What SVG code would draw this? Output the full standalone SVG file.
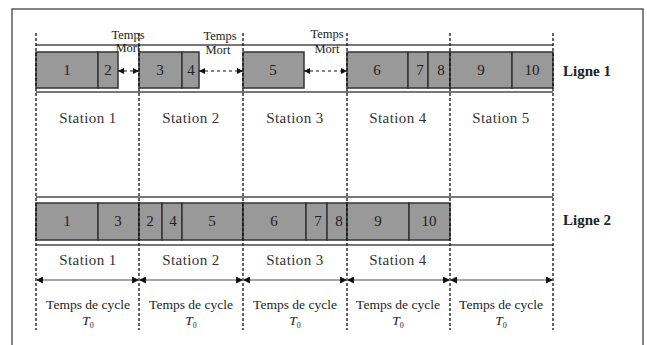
<svg xmlns="http://www.w3.org/2000/svg" width="647" height="345" viewBox="0 0 647 345">
<defs>
<marker id="ah" viewBox="0 0 10 10" refX="10" refY="5" markerWidth="8" markerHeight="7" markerUnits="userSpaceOnUse" orient="auto-start-reverse"><path d="M0,0 L10,5 L0,10 z" fill="#111"/></marker>
<marker id="ahs" viewBox="0 0 10 10" refX="10" refY="5" markerWidth="7" markerHeight="6" markerUnits="userSpaceOnUse" orient="auto-start-reverse"><path d="M0,0 L10,5 L0,10 z" fill="#111"/></marker>
<style>
.num{font-family:"Liberation Serif","Times New Roman",serif;font-size:15px;text-anchor:middle;fill:#222;}
.st{font-family:"Liberation Serif","Times New Roman",serif;font-size:15px;letter-spacing:0.4px;text-anchor:middle;fill:#333;}
.lg{font-family:"Liberation Serif","Times New Roman",serif;font-size:15px;font-weight:bold;fill:#222;}
.tm{font-family:"Liberation Serif","Times New Roman",serif;font-size:12.5px;text-anchor:middle;fill:#222;}
.tc{font-family:"Liberation Serif","Times New Roman",serif;font-size:13.5px;text-anchor:middle;fill:#222;}
.box{fill:#999;stroke:#333;stroke-width:1.5;}
.rail{stroke:#777;stroke-width:2;fill:none;}
.vd{stroke:#111;stroke-width:1.3;stroke-dasharray:3 2;fill:none;}
.cyc{stroke:#888;stroke-width:1.5;marker-start:url(#ah);marker-end:url(#ah);}
.dt{stroke:#111;stroke-width:1.2;stroke-dasharray:3 3;marker-start:url(#ahs);marker-end:url(#ahs);}
</style>
</defs>
<rect x="12" y="9" width="631" height="345" fill="#fff" stroke="#333" stroke-width="1.2"/>

<g id="rails">
<line class="rail" x1="36" y1="45" x2="553" y2="45"/>
<line class="rail" x1="36" y1="92" x2="553" y2="92"/>
<line class="rail" x1="36" y1="197" x2="553" y2="197"/>
<line class="rail" x1="36" y1="245" x2="553" y2="245"/>
</g>

<g id="ligne1">
<g id="l1-t1"><rect class="box" x="36" y="52" width="62" height="36"/><text class="num" x="67" y="75">1</text></g>
<g id="l1-t2"><rect class="box" x="98" y="52" width="20" height="36"/><text class="num" x="108" y="75">2</text></g>
<g id="l1-t3"><rect class="box" x="139" y="52" width="43" height="36"/><text class="num" x="160" y="75">3</text></g>
<g id="l1-t4"><rect class="box" x="182" y="52" width="17" height="36"/><text class="num" x="191" y="75">4</text></g>
<g id="l1-t5"><rect class="box" x="243" y="52" width="61" height="36"/><text class="num" x="273" y="75">5</text></g>
<g id="l1-t6"><rect class="box" x="347" y="52" width="61" height="36"/><text class="num" x="377" y="75">6</text></g>
<g id="l1-t7"><rect class="box" x="408" y="52" width="20" height="36"/><text class="num" x="420" y="75">7</text></g>
<g id="l1-t8"><rect class="box" x="428" y="52" width="22" height="36"/><text class="num" x="441" y="75">8</text></g>
<g id="l1-t9"><rect class="box" x="450" y="52" width="62" height="36"/><text class="num" x="481" y="75">9</text></g>
<g id="l1-t10"><rect class="box" x="512" y="52" width="41" height="36"/><text class="num" x="532" y="75">10</text></g>
<text class="lg" x="563" y="76">Ligne 1</text>
</g>

<g id="ligne2">
<g id="l2-t1"><rect class="box" x="36" y="203" width="62" height="37"/><text class="num" x="67" y="226">1</text></g>
<g id="l2-t3"><rect class="box" x="98" y="203" width="41" height="37"/><text class="num" x="118" y="226">3</text></g>
<g id="l2-t2"><rect class="box" x="139" y="203" width="23" height="37"/><text class="num" x="150" y="226">2</text></g>
<g id="l2-t4"><rect class="box" x="162" y="203" width="20" height="37"/><text class="num" x="173" y="226">4</text></g>
<g id="l2-t5"><rect class="box" x="182" y="203" width="61" height="37"/><text class="num" x="212" y="226">5</text></g>
<g id="l2-t6"><rect class="box" x="243" y="203" width="63" height="37"/><text class="num" x="274" y="226">6</text></g>
<g id="l2-t7"><rect class="box" x="306" y="203" width="21" height="37"/><text class="num" x="318" y="226">7</text></g>
<g id="l2-t8"><rect class="box" x="327" y="203" width="20" height="37"/><text class="num" x="339" y="226">8</text></g>
<g id="l2-t9"><rect class="box" x="347" y="203" width="62" height="37"/><text class="num" x="378" y="226">9</text></g>
<g id="l2-t10"><rect class="box" x="409" y="203" width="41" height="37"/><text class="num" x="429" y="226">10</text></g>
<text class="lg" x="563" y="225">Ligne 2</text>
</g>

<g id="connectors">
<line class="vd" x1="36" y1="33" x2="36" y2="330"/>
<line class="vd" x1="139" y1="33" x2="139" y2="330"/>
<line class="vd" x1="243" y1="33" x2="243" y2="330"/>
<line class="vd" x1="347" y1="33" x2="347" y2="330"/>
<line class="vd" x1="450" y1="33" x2="450" y2="330"/>
<line class="vd" x1="553" y1="33" x2="553" y2="330"/>
<line class="dt" x1="118" y1="71" x2="139" y2="71"/>
<line class="dt" x1="199" y1="71" x2="243" y2="71"/>
<line class="dt" x1="304" y1="71" x2="347" y2="71"/>
<line class="cyc" x1="36" y1="280" x2="139" y2="280"/>
<line class="cyc" x1="139" y1="280" x2="243" y2="280"/>
<line class="cyc" x1="243" y1="280" x2="347" y2="280"/>
<line class="cyc" x1="347" y1="280" x2="450" y2="280"/>
<line class="cyc" x1="450" y1="280" x2="553" y2="280"/>
</g>

<g id="temps-mort">
<text class="tm" x="128" y="39">Temps</text><text class="tm" x="128" y="52">Mort</text>
<text class="tm" x="220" y="40">Temps</text><text class="tm" x="218" y="54">Mort</text>
<text class="tm" x="327" y="38">Temps</text><text class="tm" x="327" y="53">Mort</text>
</g>

<g id="stations1">
<text class="st" x="88" y="123">Station 1</text>
<text class="st" x="191" y="123">Station 2</text>
<text class="st" x="295" y="123">Station 3</text>
<text class="st" x="398" y="123">Station 4</text>
<text class="st" x="501" y="123">Station 5</text>
</g>
<g id="stations2">
<text class="st" x="88" y="265">Station 1</text>
<text class="st" x="191" y="265">Station 2</text>
<text class="st" x="295" y="265">Station 3</text>
<text class="st" x="398" y="265">Station 4</text>
</g>

<g id="cycles">
<text class="tc" x="88" y="309">Temps de cycle</text><text class="tc" x="88" y="325"><tspan font-style="italic">T</tspan><tspan font-size="8" dy="3">0</tspan></text>
<text class="tc" x="191" y="309">Temps de cycle</text><text class="tc" x="191" y="325"><tspan font-style="italic">T</tspan><tspan font-size="8" dy="3">0</tspan></text>
<text class="tc" x="295" y="309">Temps de cycle</text><text class="tc" x="295" y="325"><tspan font-style="italic">T</tspan><tspan font-size="8" dy="3">0</tspan></text>
<text class="tc" x="398" y="309">Temps de cycle</text><text class="tc" x="398" y="325"><tspan font-style="italic">T</tspan><tspan font-size="8" dy="3">0</tspan></text>
<text class="tc" x="501" y="309">Temps de cycle</text><text class="tc" x="501" y="325"><tspan font-style="italic">T</tspan><tspan font-size="8" dy="3">0</tspan></text>
</g>
</svg>
